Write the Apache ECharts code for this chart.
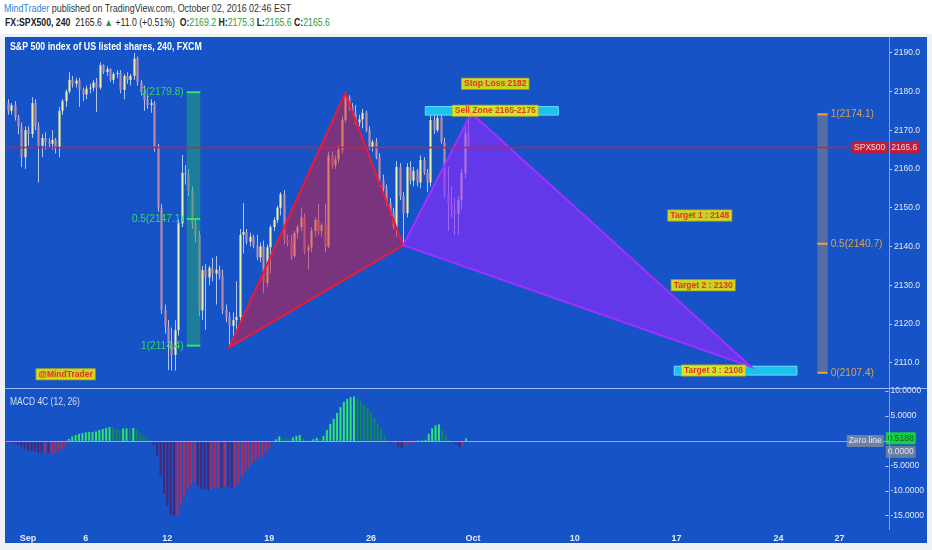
<!DOCTYPE html>
<html>
<head>
<meta charset="utf-8">
<script src="https://cdn.jsdelivr.net/npm/echarts/dist/echarts.min.js"></script>
<style>
  html, body { margin:0; padding:0; width:932px; height:550px; overflow:hidden; background:#eef1f5; }
  #hdr { position:absolute; left:0; top:0; width:932px; height:34px; background:#ffffff;
         font-family:'Liberation Sans',Arial,sans-serif; }
  #l1 { position:absolute; left:4px; top:2px; font-size:10.5px; line-height:12px; color:#333; white-space:nowrap;
        transform:scaleX(0.85); transform-origin:0 0; }
  #l2 { position:absolute; left:5px; top:16px; font-size:10.5px; line-height:13px; color:#222; white-space:nowrap;
        transform:scaleX(0.83); transform-origin:0 0; }
  #l2 .g { color:#2a9c3a; }
  #chart { position:absolute; left:5px; top:37px; width:922px; height:506px; }
</style>
</head>
<body>
<div id="hdr"><div id="l1"></div><div id="l2"></div></div>
<div id="chart"></div>
<script>
// ---------- data ----------
const days = ['Aug 31','Sep 1','Sep 2','Sep 5','Sep 6','Sep 7','Sep 8','Sep 9','Sep 12','Sep 13','Sep 14','Sep 15','Sep 16',
  'Sep 19','Sep 20','Sep 21','Sep 22','Sep 23','Sep 26','Sep 27','Sep 28','Sep 29','Sep 30','Oct 3','Oct 4','Oct 5','Oct 6','Oct 7',
  'Oct 10','Oct 11','Oct 12','Oct 13','Oct 14','Oct 17','Oct 18','Oct 19','Oct 20','Oct 21','Oct 24','Oct 25','Oct 26','Oct 27','Oct 28','Oct 31'];
const barHours = ['00:00','04:00','08:00','12:00','16:00','20:00'];
const shortSessions = {'Sep 5': 5, 'Oct 31': 2};
const tickDays = ['Sep 1','Sep 6','Sep 12','Sep 19','Sep 26','Oct 3','Oct 10','Oct 17','Oct 24','Oct 27'];
const tickLabels = ['Sep','6','12','19','26','Oct','10','17','24','27'];

// 240-minute candles: [open, high, low, close]
const ohlc = [
 [2177.0,2178.0,2174.0,2175.0],[2175.0,2177.0,2174.0,2176.5],[2176.5,2177.5,2172.5,2173.4],[2173.4,2174.0,2169.0,2171.0],
 [2171.0,2172.0,2160.5,2163.0],[2163.0,2171.0,2160.0,2170.0],[2170.0,2171.0,2166.0,2169.0],[2169.0,2178.5,2168.0,2177.0],
 [2177.0,2178.0,2170.0,2171.0],[2171.0,2172.0,2156.5,2166.0],[2166.0,2169.0,2163.0,2168.0],[2168.0,2169.5,2165.0,2167.0],
 [2167.0,2168.0,2165.5,2166.5],[2166.5,2170.0,2165.0,2167.5],[2167.5,2168.0,2164.0,2165.5],[2165.5,2176.0,2163.0,2175.0],
 [2175.0,2178.0,2174.0,2177.5],[2177.5,2180.5,2176.0,2180.0],[2180.0,2185.0,2179.5,2183.0],[2183.0,2184.0,2181.0,2182.0],
 [2182.0,2183.5,2181.0,2182.8],[2182.8,2183.5,2176.0,2180.4],[2180.4,2181.0,2177.5,2179.2],[2179.2,2181.5,2178.0,2180.7],
 [2180.7,2182.0,2179.5,2181.0],[2181.0,2183.0,2180.0,2182.3],[2182.3,2183.5,2174.7,2181.0],[2181.0,2187.5,2180.5,2186.8],
 [2186.8,2187.0,2184.5,2185.0],[2185.0,2186.5,2184.0,2185.8],[2185.8,2186.0,2182.5,2183.0],[2183.0,2185.0,2182.0,2184.5],
 [2184.5,2185.5,2183.5,2184.8],[2184.8,2185.5,2179.5,2180.4],[2180.4,2184.5,2178.0,2184.0],[2184.0,2185.0,2182.0,2183.0],
 [2183.0,2184.5,2181.5,2184.0],[2184.0,2190.0,2183.0,2188.5],[2188.5,2189.0,2181.5,2182.4],[2182.4,2183.0,2179.0,2180.0],
 [2180.0,2181.5,2175.0,2177.8],[2177.8,2179.0,2175.5,2176.5],[2176.5,2178.0,2174.5,2177.0],[2177.0,2177.5,2164.5,2165.6],
 [2165.6,2166.5,2149.0,2150.0],[2150.0,2151.0,2122.5,2123.6],[2123.6,2125.0,2117.5,2119.3],[2119.3,2121.0,2108.1,2115.0],
 [2115.0,2119.0,2108.0,2112.0],[2112.0,2121.0,2108.0,2118.4],[2118.4,2147.0,2117.0,2146.0],[2146.0,2163.6,2145.0,2159.0],
 [2159.0,2161.0,2156.0,2158.5],[2158.5,2160.0,2153.0,2154.5],[2154.5,2155.5,2144.5,2146.0],[2146.0,2147.0,2141.0,2143.0],
 [2143.0,2144.0,2122.0,2123.5],[2123.5,2135.0,2121.0,2133.9],[2133.9,2135.5,2118.5,2132.0],[2132.0,2135.0,2130.0,2134.5],
 [2134.5,2137.0,2131.0,2133.0],[2133.0,2137.5,2125.0,2134.0],[2134.0,2135.0,2131.5,2132.5],[2132.5,2134.0,2122.5,2123.6],
 [2123.6,2125.0,2120.5,2121.8],[2121.8,2123.0,2114.0,2119.5],[2119.5,2123.0,2116.0,2121.0],[2121.0,2131.0,2117.5,2121.8],
 [2121.8,2144.5,2120.5,2143.0],[2143.0,2151.2,2138.2,2143.7],[2143.7,2144.5,2140.5,2141.2],[2141.2,2143.5,2140.0,2142.5],
 [2142.5,2143.0,2139.5,2140.2],[2140.2,2143.0,2136.5,2137.2],[2137.2,2141.0,2136.0,2140.0],[2140.0,2141.5,2128.0,2130.6],
 [2130.6,2140.5,2129.5,2139.8],[2139.8,2145.5,2133.0,2145.0],[2145.0,2147.5,2144.0,2146.8],[2146.8,2150.5,2146.0,2150.0],
 [2150.0,2154.0,2148.0,2153.5],[2153.5,2154.6,2140.5,2141.6],[2141.6,2143.0,2140.0,2140.9],[2140.9,2143.0,2136.5,2137.5],
 [2137.5,2144.0,2137.0,2143.5],[2143.5,2145.5,2142.0,2145.0],[2145.0,2150.0,2144.0,2147.5],[2147.5,2148.5,2138.0,2139.0],
 [2139.0,2140.5,2134.0,2139.8],[2139.8,2145.0,2138.5,2144.0],[2144.0,2147.5,2142.5,2146.8],[2146.8,2151.0,2143.0,2144.0],
 [2144.0,2146.0,2142.5,2145.5],[2145.5,2151.0,2138.5,2140.0],[2140.0,2164.5,2139.5,2163.5],[2163.5,2164.5,2160.0,2161.0],
 [2161.0,2163.5,2160.0,2162.5],[2162.5,2166.0,2161.5,2165.0],[2165.0,2173.5,2164.0,2172.6],[2172.6,2179.6,2172.0,2178.5],
 [2178.5,2179.0,2175.0,2176.0],[2176.0,2177.0,2174.0,2174.5],[2174.5,2176.5,2171.5,2172.0],[2172.0,2174.0,2171.0,2172.8],
 [2172.8,2175.5,2170.5,2174.5],[2174.5,2175.0,2169.5,2170.0],[2170.0,2171.0,2165.0,2165.6],[2165.6,2167.5,2164.5,2167.0],
 [2167.0,2168.0,2162.5,2163.0],[2163.0,2164.0,2155.5,2157.0],[2157.0,2158.5,2154.0,2155.0],[2155.0,2156.0,2150.5,2151.2],
 [2151.2,2152.5,2148.0,2148.6],[2148.6,2150.0,2144.5,2145.0],[2145.0,2162.0,2142.5,2160.5],[2160.5,2161.5,2152.0,2153.0],
 [2153.0,2154.0,2140.3,2148.6],[2148.6,2161.5,2147.5,2160.5],[2160.5,2162.0,2156.0,2157.0],[2157.0,2160.5,2155.5,2159.5],
 [2159.5,2160.0,2155.5,2156.5],[2156.5,2163.5,2155.0,2162.3],[2162.3,2163.0,2158.5,2159.0],[2159.0,2160.0,2154.0,2156.5],
 [2156.5,2174.0,2155.5,2172.6],[2172.6,2174.7,2169.0,2170.0],[2170.0,2174.7,2169.5,2173.2],[2173.2,2174.0,2166.5,2167.0],
 [2167.0,2168.0,2152.5,2153.7],[2153.7,2160.5,2144.0,2151.0],[2151.0,2155.5,2147.5,2149.4],[2149.4,2152.5,2143.0,2148.4],
 [2148.4,2153.0,2143.0,2152.0],[2152.0,2160.0,2149.5,2159.0],[2159.0,2172.0,2157.5,2169.2],[2169.2,2175.3,2165.6,2165.6]
];

// MACD 4C histogram (12, 26)
const macd = [
 -0.3,-0.4,-0.5,-0.8,-1.2,-1.6,-1.9,-2.0,-2.1,-2.3,-2.4,-2.4,-2.5,-2.5,-2.4,-2.1,-1.6,-0.9,
 0.4,0.9,1.2,1.4,1.6,1.7,1.8,1.8,1.9,2.2,2.4,2.6,2.8,2.7,2.3,2.1,2.5,2.5,2.4,2.6,2.2,1.6,1.0,0.5,0.2,
 -0.8,-3.0,-7.0,-10.5,-13.0,-14.8,-16.2,-14.8,-12.8,-11.2,-9.8,-8.8,-8.2,-9.0,-9.6,-9.7,-9.8,-9.8,-9.5,-9.4,-9.6,-9.2,-9.3,-9.6,-9.4,-8.6,-7.2,-6.0,-5.3,-4.6,-3.9,-3.4,-3.2,-2.3,-1.5,-0.3,
 0.3,0.9,0.6,0.5,0.4,0.7,1.0,1.2,0.6,0.2,0.1,0.3,0.6,0.5,1.0,2.2,3.4,4.4,5.6,6.8,7.8,8.4,8.8,8.9,8.5,8.0,7.3,6.6,5.6,4.6,3.6,2.4,1.0,
 -0.3,-0.5,-0.4,-1.2,-1.4,-0.8,-0.7,-0.5,-0.3,0.1,0.1,0.2,1.4,2.5,3.1,3.3,2.2,1.1,0.2,-0.3,-0.6,-1.2,-1.0,0.5188
];

// Drawings (anchored by bar time and price)
const patternXAB = [['Sep 15 00:00',2114.0],['Sep 22 16:00',2179.6],['Sep 27 12:00',2140.3]];
const patternBCD = [['Sep 27 12:00',2140.3],['Sep 30 20:00',2174.4],['Oct 20 12:00',2109.0]];
const fibLeftSpan = ['Sep 13 00:00','Sep 13 12:00'];
const fibLeftLevels = ['0','0.5','1'];
const fibLeftPrices = [2179.8,2147.1,2114.4];
const fibRightSpan = ['Oct 25 20:00','Oct 26 04:00'];
const fibRightLevels = ['1','0.5','0'];
const fibRightPrices = [2174.1,2140.7,2107.4];
const zoneSpans = [['Sep 28 16:00','Oct 7 00:00'],['Oct 14 20:00','Oct 24 16:00']];
const zonePrices = [[2173.9,2176.1],[2106.8,2109.1]];
const noteTexts = ['Stop Loss 2182','Sell Zone 2165-2175','Target 1 : 2148','Target 2 : 2130','Target 3 : 2108','@MindTrader'];
const noteTimes = ['Oct 4 00:00','Oct 4 00:00','Oct 18 00:00','Oct 18 04:00','Oct 18 16:00','Sep 2 20:00'];
const notePrices = [2182,2175,2148,2130,2108,2107];
const symbolName = 'SPX500';
const chartTitle = 'S&P 500 index of US listed shares, 240, FXCM';
const macdTitle = 'MACD 4C (12, 26)';

// ---------- derived ----------
const categories = [];
days.forEach(d => { const n = shortSessions[d] || 6; for (let k = 0; k < n; k++) categories.push(d + ' ' + barHours[k]); });
const slot = name => categories.indexOf(name);
const lastSlot = categories.length - 1;
const last = ohlc[ohlc.length - 1];
const lastClose = last[3];
const lastMacd = macd[macd.length - 1];
const tickMap = {};
tickDays.forEach((d, i) => { tickMap[d + ' 00:00'] = tickLabels[i]; });
const isTick = (idx, val) => tickMap.hasOwnProperty(val);

document.getElementById('l1').innerHTML =
  '<span style="color:#2b87d6">MindTrader</span> published on TradingView.com, October 02, 2016 02:46 EST';
document.getElementById('l2').innerHTML =
  '<b>FX:SPX500, 240</b>&nbsp; ' + lastClose.toFixed(1) + ' <span style="color:#2a9c3a">&#9650;</span> +11.0 (+0.51%)&nbsp; ' +
  '<b>O:</b><span class="g">' + last[0].toFixed(1) + '</span> <b>H:</b><span class="g">' + last[1].toFixed(1) +
  '</span> <b>L:</b><span class="g">' + last[2].toFixed(1) + '</span> <b>C:</b><span class="g">' + last[3].toFixed(1) + '</span>';

const FONT = "'Liberation Sans',Arial,sans-serif";
const C = {
  bg:'#1553c6', axisLine:'#77a2ee', axisText:'#e3eaf8', up:'#ecf19c', down:'#c28aa8', wick:'#b0c6ff',
  gRise:'#2ee46e', gFall:'#118a58', rFall:'#4c2470', rRise:'#b22a5c'
};

const chart = echarts.init(document.getElementById('chart'));

const labelBox = (extra) => Object.assign({
  show:true, fontFamily:FONT, fontSize:8.5, padding:[2,2,1,2], color:'#ffffff'
}, extra);

const option = {
  animation:false,
  backgroundColor:C.bg,
  textStyle:{fontFamily:FONT},
  grid:[
    {left:1, right:38, top:15.7, height:310},
    {left:1, right:38, top:354, height:124.7}
  ],
  xAxis:[
    {type:'category', gridIndex:0, data:categories, boundaryGap:true, show:false},
    {type:'category', gridIndex:1, data:categories, boundaryGap:true, offset:14.3,
     axisLine:{lineStyle:{color:C.axisLine}},
     axisTick:{interval:isTick, alignWithLabel:true, length:3, lineStyle:{color:'#c9d7f6'}},
     axisLabel:{interval:isTick, formatter:v => tickMap[v] || '', color:C.axisText, fontSize:9,
                fontWeight:'bold', fontFamily:FONT, margin:4},
     splitLine:{show:false}}
  ],
  yAxis:[
    {type:'value', gridIndex:0, position:'right', min:2110, max:2190, interval:10,
     axisLine:{show:false}, axisTick:{show:true, length:3, lineStyle:{color:'#c9d7f6'}},
     splitLine:{show:false},
     axisLabel:{formatter:v => v.toFixed(1), color:C.axisText, fontSize:8.5, fontFamily:FONT, margin:5}},
    {type:'value', gridIndex:1, position:'right', min:-15, max:10, interval:5,
     axisLine:{show:false}, axisTick:{show:true, length:3, lineStyle:{color:'#c9d7f6'}},
     splitLine:{show:false},
     axisLabel:{formatter:v => v === 0 ? '' : v.toFixed(4), color:C.axisText, fontSize:8.5, fontFamily:FONT, margin:5}}
  ],
  graphic:[
    {type:'line', silent:true, shape:{x1:884.5, y1:0, x2:884.5, y2:493}, style:{stroke:C.axisLine, lineWidth:1}, z:50},
    {type:'line', silent:true, shape:{x1:0, y1:351.5, x2:922, y2:351.5}, style:{stroke:'#9dbdf5', lineWidth:1}, z:50},
    {type:'text', silent:true, x:5, y:9.5, scaleX:0.8, z:50,
     style:{text:chartTitle, fill:'#ffffff', font:'bold 11px ' + FONT, verticalAlign:'middle'}},
    {type:'text', silent:true, x:5, y:365, scaleX:0.85, z:50,
     style:{text:macdTitle, fill:'#d6def0', font:'10px ' + FONT, verticalAlign:'middle'}}
  ],
  series:[
    // candles
    {
      type:'custom', name:'SPX500', xAxisIndex:0, yAxisIndex:0, z:2, silent:true,
      data: ohlc.map((d, i) => [i, d[0], d[1], d[2], d[3]]),
      renderItem:(params, api) => {
        const x = api.value(0), o = api.value(1), h = api.value(2), l = api.value(3), c = api.value(4);
        const pO = api.coord([x, o]), pC = api.coord([x, c]), pH = api.coord([x, h]), pL = api.coord([x, l]);
        const w = Math.max(1.6, api.size([1, 0])[0] * 0.62);
        const up = c >= o;
        const cx = Math.round(pH[0]) + 0.5;
        return {type:'group', children:[
          {type:'line', shape:{x1:cx, y1:pH[1], x2:cx, y2:pL[1]}, style:{stroke:C.wick, lineWidth:1}},
          {type:'rect', shape:{x:cx - w/2, y:Math.min(pO[1], pC[1]), width:w, height:Math.max(1, Math.abs(pO[1] - pC[1]))},
           style:{fill: up ? C.up : C.down}}
        ]};
      }
    },
    // last price line
    {
      type:'line', xAxisIndex:0, yAxisIndex:0, z:5, silent:true, data:[], symbol:'none',
      markLine:{silent:true, symbol:'none', label:{show:false},
        lineStyle:{color:'#d02036', width:1.4, type:'solid', opacity:1}, data:[{yAxis:lastClose}]}
    },
    // fib rectangles
    {
      type:'custom', xAxisIndex:0, yAxisIndex:0, z:3, silent:true, data:[0, 1],
      renderItem:(params, api) => {
        const left = params.dataIndex === 0;
        const span = left ? fibLeftSpan : fibRightSpan;
        const prices = left ? fibLeftPrices : fibRightPrices;
        const levels = left ? fibLeftLevels : fibRightLevels;
        const bw = api.size([1, 0])[0];
        const top = Math.max.apply(null, prices), bot = Math.min.apply(null, prices);
        const a = api.coord([slot(span[0]), top]), b = api.coord([slot(span[1]), bot]);
        const x0 = a[0] - bw/2, x1 = b[0] + bw/2;
        const lineCol = left ? '#35e35c' : '#f2a233';
        const textCol = left ? '#3ad763' : '#dba24e';
        const kids = [{type:'rect', shape:{x:x0, y:a[1], width:x1 - x0, height:b[1] - a[1]},
          style:{fill: left ? 'rgba(35,170,110,0.5)' : 'rgba(165,145,125,0.45)'}}];
        prices.forEach((p, i) => {
          const y = api.coord([0, p])[1];
          kids.push({type:'line', shape:{x1:x0, y1:y, x2:x1, y2:y}, style:{stroke:lineCol, lineWidth:2}});
          kids.push({type:'text', x: left ? x0 - 3 : x1 + 3, y:y, scaleX:0.92,
            style:{text: levels[i] + '(' + p.toFixed(1) + ')', fill:textCol, font:'11px ' + FONT,
                   align: left ? 'right' : 'left', verticalAlign:'middle'}});
        });
        return {type:'group', children:kids};
      }
    },
    // cyan zones
    {
      type:'custom', xAxisIndex:0, yAxisIndex:0, z:3, silent:true, data:zoneSpans.map((s, i) => i),
      renderItem:(params, api) => {
        const s = zoneSpans[params.dataIndex], p = zonePrices[params.dataIndex];
        const bw = api.size([1, 0])[0];
        const a = api.coord([slot(s[0]), p[1]]), b = api.coord([slot(s[1]), p[0]]);
        return {type:'rect', shape:{x:a[0] - bw/2, y:a[1], width:b[0] - a[0] + bw, height:b[1] - a[1]},
          style:{fill:'#19c3ee', stroke:'#6fdcff', lineWidth:1}};
      }
    },
    // harmonic triangles
    {
      type:'custom', xAxisIndex:0, yAxisIndex:0, z:4, silent:true, data:[0, 1],
      renderItem:(params, api) => {
        const pts = (params.dataIndex === 0 ? patternXAB : patternBCD).map(p => api.coord([slot(p[0]), p[1]]));
        const red = params.dataIndex === 0;
        return {type:'polygon', shape:{points:pts},
          style:{fill: red ? 'rgba(215,25,60,0.52)' : 'rgba(145,40,255,0.62)',
                 stroke: red ? '#ee1838' : '#a030ff', lineWidth:2}};
      }
    },
    // text notes
    {
      type:'scatter', xAxisIndex:0, yAxisIndex:0, z:6, symbolSize:0, clip:false, silent:true,
      data: noteTexts.map((t, i) => ({value:[slot(noteTimes[i]), notePrices[i]], name:t})),
      label:{show:true, position:'inside', formatter:p => p.name, color:'#e8101c', fontWeight:'bold',
             fontFamily:FONT, fontSize:8.5, backgroundColor:'#f4f000', borderColor:'#c9c400', borderWidth:1,
             padding:[1,2,0,2]}
    },
    // last price tags
    {
      type:'scatter', xAxisIndex:0, yAxisIndex:0, z:8, symbolSize:0, clip:false, silent:true,
      data:[
        {value:[lastSlot, lastClose], label:labelBox({position:'left', distance:0, formatter:symbolName, backgroundColor:'#e8131d'})},
        {value:[lastSlot, lastClose], label:labelBox({position:'right', distance:2, formatter:lastClose.toFixed(1), backgroundColor:'#e8131d'})}
      ]
    },
    // MACD histogram
    {
      type:'bar', xAxisIndex:1, yAxisIndex:1, barWidth:2, silent:true,
      data: macd.map((v, i) => {
        const prev = i > 0 ? macd[i - 1] : v;
        const col = v >= 0 ? (v >= prev ? C.gRise : C.gFall) : (v < prev ? C.rFall : C.rRise);
        return {value:v, itemStyle:{color:col}};
      }),
      markLine:{silent:true, symbol:'none', label:{show:false},
        lineStyle:{color:'#a2a8c4', width:1, type:'solid'}, data:[{yAxis:0}]}
    },
    // MACD tags
    {
      type:'scatter', xAxisIndex:1, yAxisIndex:1, z:8, symbolSize:0, clip:false, silent:true,
      data:[
        {value:[lastSlot, 0], label:labelBox({position:'left', distance:0, formatter:'Zero line', backgroundColor:'#858d9c'})},
        {value:[lastSlot, lastMacd], label:labelBox({position:'right', distance:2, formatter:lastMacd.toFixed(4), backgroundColor:'#19ee24', color:'#123a16'})},
        {value:[lastSlot, 0], label:labelBox({position:'right', distance:2, offset:[0, 11], formatter:(0).toFixed(4), backgroundColor:'#7f8896'})}
      ]
    }
  ]
};
chart.setOption(option);
</script>
</body>
</html>
